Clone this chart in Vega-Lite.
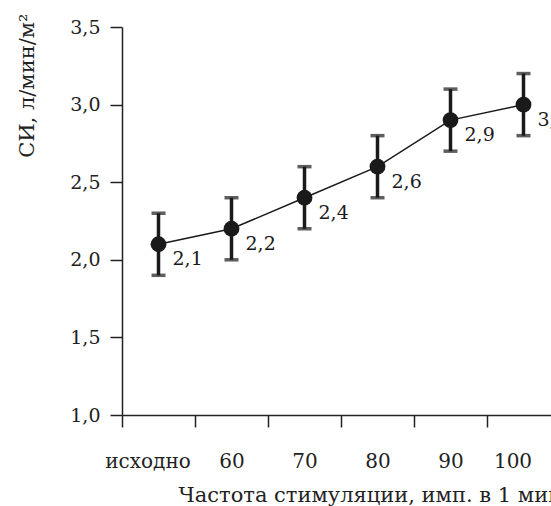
{
  "$schema": "https://vega.github.io/schema/vega-lite/v6.json",
  "autosize": {"type": "none"},
  "padding": {"left": 122, "top": 27, "right": 0, "bottom": 91},
  "width": 429,
  "height": 388,
  "background": "white",
  "config": {
    "view": {"stroke": null},
    "font": "DejaVu Serif",
    "axis": {"grid": false, "domainColor": "#222", "tickColor": "#222", "labelColor": "#222", "titleColor": "#222", "domainWidth": 1.5, "tickWidth": 1.5, "labelFont": "DejaVu Serif", "titleFont": "DejaVu Serif", "titleFontWeight": "normal"}
  },
  "data": {
    "values": [
      {"cat": "исходно", "v": 2.1, "lo": 1.9, "hi": 2.3, "label": "2,1"},
      {"cat": "60", "v": 2.2, "lo": 2.0, "hi": 2.4, "label": "2,2"},
      {"cat": "70", "v": 2.4, "lo": 2.2, "hi": 2.6, "label": "2,4"},
      {"cat": "80", "v": 2.6, "lo": 2.4, "hi": 2.8, "label": "2,6"},
      {"cat": "90", "v": 2.9, "lo": 2.7, "hi": 3.1, "label": "2,9"},
      {"cat": "100", "v": 3.0, "lo": 2.8, "hi": 3.2, "label": "3,0"}
    ]
  },
  "encoding": {
    "x": {
      "field": "cat", "type": "nominal", "sort": null,
      "scale": {"type": "band", "range": [0, 438], "paddingInner": 0, "paddingOuter": 0},
      "axis": {
        "tickBand": "extent", "tickSize": 12, "labelPadding": 24, "labelAngle": 0,
        "labelFontSize": 20, "labelBaseline": "top",
        "labelOffset": {"condition": {"test": "datum.value === 'исходно' || datum.value === '100'", "value": -11}, "value": 0},
        "title": "Частота стимуляции, имп. в 1 мин", "titleFontSize": 21,
        "titleAnchor": "start", "titleAlign": "left", "titleBaseline": "alphabetic",
        "titleX": 56, "titleY": 86
      }
    }
  },
  "layer": [
    {
      "mark": {"type": "rule", "strokeWidth": 3.5, "color": "#1a1a1a"},
      "encoding": {
        "y": {
          "field": "lo", "type": "quantitative",
          "scale": {"domain": [1, 3.5], "nice": false, "zero": false},
          "axis": {
            "values": [1, 1.5, 2, 2.5, 3, 3.5], "tickSize": 12, "labelPadding": 10,
            "labelFontSize": 19, "labelExpr": "replace(format(datum.value, '.1f'), '.', ',')",
            "title": "СИ, л/мин/м²", "titleFontSize": 21, "titleAngle": 270,
            "titleAlign": "right", "titleBaseline": "middle", "titleX": -95, "titleY": -14
          }
        },
        "y2": {"field": "hi"}
      }
    },
    {
      "mark": {"type": "tick", "thickness": 3.5, "size": 14, "color": "#1a1a1a", "orient": "horizontal"},
      "encoding": {"y": {"field": "lo", "type": "quantitative"}}
    },
    {
      "mark": {"type": "tick", "thickness": 3.5, "size": 14, "color": "#1a1a1a", "orient": "horizontal"},
      "encoding": {"y": {"field": "hi", "type": "quantitative"}}
    },
    {
      "mark": {"type": "line", "strokeWidth": 1.5, "color": "#1a1a1a"},
      "encoding": {"y": {"field": "v", "type": "quantitative"}}
    },
    {
      "mark": {"type": "point", "filled": true, "size": 250, "opacity": 1, "color": "#1a1a1a"},
      "encoding": {"y": {"field": "v", "type": "quantitative"}}
    },
    {
      "mark": {"type": "text", "align": "left", "baseline": "middle", "dx": 14, "dy": 15, "fontSize": 19, "color": "#1a1a1a"},
      "encoding": {"y": {"field": "v", "type": "quantitative"}, "text": {"field": "label"}}
    }
  ]
}
